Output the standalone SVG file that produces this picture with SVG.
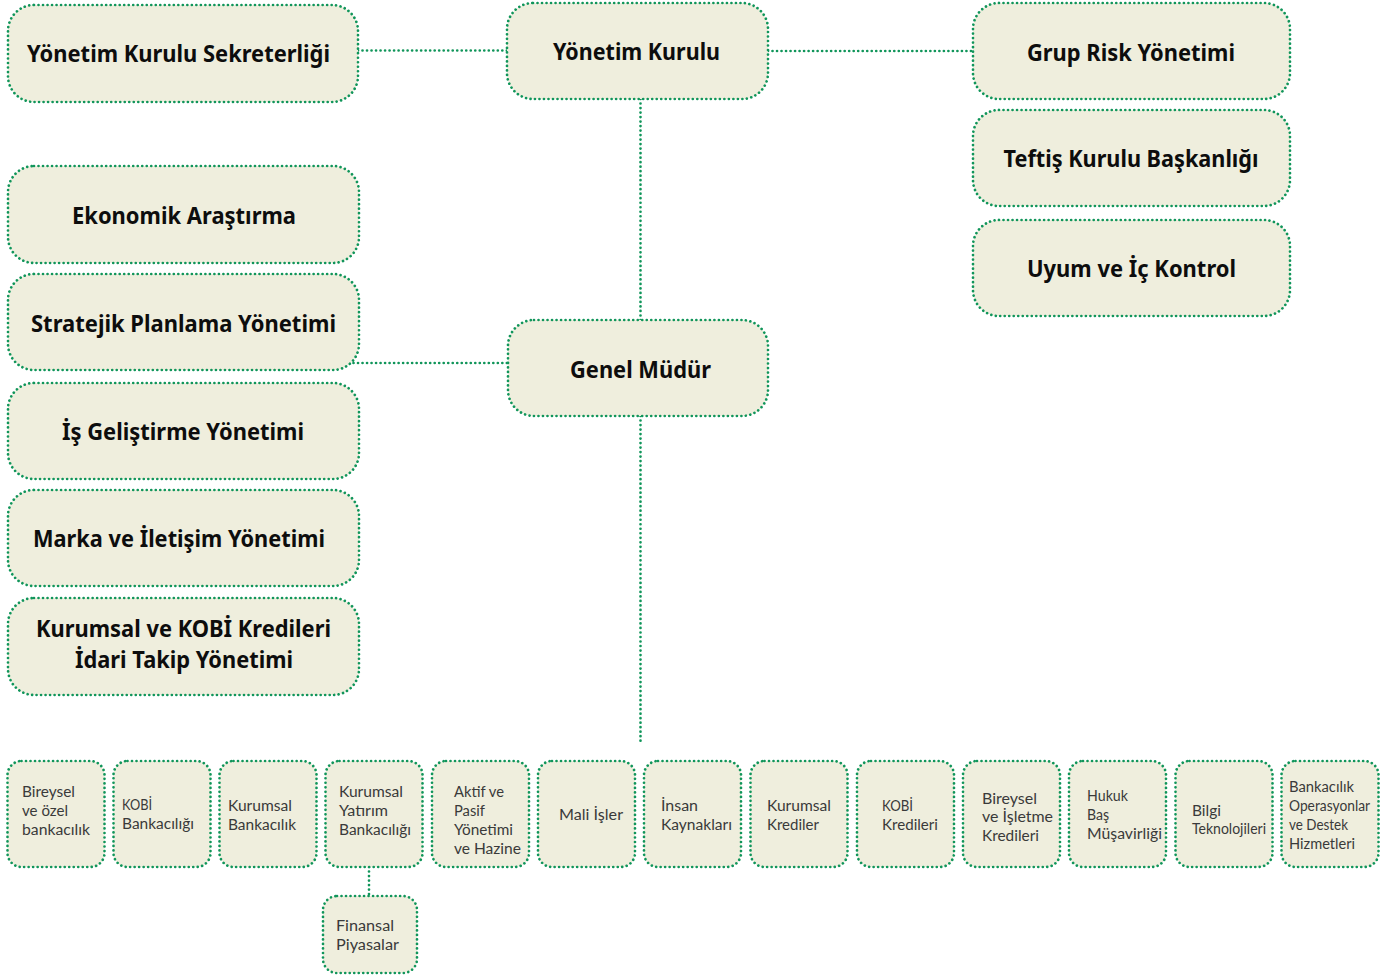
<svg xmlns="http://www.w3.org/2000/svg" width="1400" height="976" viewBox="0 0 1400 976">
<style>
.box{fill:#efeedd;stroke:#10955a;stroke-width:2.7;stroke-dasharray:0.01 4.5;stroke-linecap:round}
.ln{fill:none;stroke:#10955a;stroke-width:2.7;stroke-dasharray:0.01 4.5;stroke-linecap:round}
.b{font-family:"Noto Sans","Open Sans",sans-serif;font-weight:700;font-size:24px;fill:#0d0d0d;text-anchor:middle}
.s{font-family:Lato,"Noto Sans",sans-serif;font-weight:400;font-size:15.5px;fill:#3a3a3a}
</style>
<rect width="1400" height="976" fill="#fff"/>
<g id="connectors">
<path class="ln" d="M358 50.5H507"/>
<path class="ln" d="M768 51H973"/>
<path class="ln" d="M640.5 99V320"/>
<path class="ln" d="M349 363H508"/>
<path class="ln" d="M640.5 416V745"/>
<path class="ln" d="M369 867V896"/>
</g>
<g id="n-yks"><rect class="box" x="8" y="5" width="350" height="97" rx="26"/><text class="b" x="178.5" y="62" textLength="303" lengthAdjust="spacingAndGlyphs">Yönetim Kurulu Sekreterliği</text></g>
<g id="n-yk"><rect class="box" x="507" y="3" width="261" height="96" rx="26"/><text class="b" x="636.5" y="60" textLength="167" lengthAdjust="spacingAndGlyphs">Yönetim Kurulu</text></g>
<g id="n-grup"><rect class="box" x="973" y="3" width="317" height="96" rx="26"/><text class="b" x="1131" y="61" textLength="208" lengthAdjust="spacingAndGlyphs">Grup Risk Yönetimi</text></g>
<g id="n-teftis"><rect class="box" x="973" y="110" width="317" height="96" rx="26"/><text class="b" x="1131" y="167" textLength="255" lengthAdjust="spacingAndGlyphs">Teftiş Kurulu Başkanlığı</text></g>
<g id="n-uyum"><rect class="box" x="973" y="220" width="317" height="96" rx="26"/><text class="b" x="1131.5" y="277" textLength="209" lengthAdjust="spacingAndGlyphs">Uyum ve İç Kontrol</text></g>
<g id="n-ekonomik"><rect class="box" x="8" y="166" width="351" height="97" rx="26"/><text class="b" x="184" y="223.5" textLength="224" lengthAdjust="spacingAndGlyphs">Ekonomik Araştırma</text></g>
<g id="n-stratejik"><rect class="box" x="8" y="274" width="351" height="96" rx="26"/><text class="b" x="183.5" y="332" textLength="305" lengthAdjust="spacingAndGlyphs">Stratejik Planlama Yönetimi</text></g>
<g id="n-is"><rect class="box" x="8" y="383" width="351" height="96" rx="26"/><text class="b" x="183" y="440" textLength="242" lengthAdjust="spacingAndGlyphs">İş Geliştirme Yönetimi</text></g>
<g id="n-marka"><rect class="box" x="8" y="490" width="351" height="96" rx="26"/><text class="b" x="179" y="547" textLength="292" lengthAdjust="spacingAndGlyphs">Marka ve İletişim Yönetimi</text></g>
<g id="n-kurumsal-kobi"><rect class="box" x="8" y="598" width="351" height="97" rx="26"/><text class="b" x="183.5" y="637" textLength="295" lengthAdjust="spacingAndGlyphs">Kurumsal ve KOBİ Kredileri</text><text class="b" x="184" y="668" textLength="218" lengthAdjust="spacingAndGlyphs">İdari Takip Yönetimi</text></g>
<g id="n-gm"><rect class="box" x="508" y="320" width="260" height="96" rx="26"/><text class="b" x="640.5" y="378" textLength="141" lengthAdjust="spacingAndGlyphs">Genel Müdür</text></g>

<g id="n-b1"><rect class="box" x="7.5" y="761" width="97" height="106" rx="14"/><text class="s" x="22" y="797" textLength="53" lengthAdjust="spacingAndGlyphs">Bireysel</text><text class="s" x="22" y="816" textLength="46" lengthAdjust="spacingAndGlyphs">ve özel</text><text class="s" x="22" y="835" textLength="68" lengthAdjust="spacingAndGlyphs">bankacılık</text></g>
<g id="n-b2"><rect class="box" x="113.5" y="761" width="97" height="106" rx="14"/><text class="s" x="122" y="810" textLength="30" lengthAdjust="spacingAndGlyphs">KOBİ</text><text class="s" x="122" y="829" textLength="72" lengthAdjust="spacingAndGlyphs">Bankacılığı</text></g>
<g id="n-b3"><rect class="box" x="219.5" y="761" width="97" height="106" rx="14"/><text class="s" x="228" y="811" textLength="64" lengthAdjust="spacingAndGlyphs">Kurumsal</text><text class="s" x="228" y="830" textLength="68" lengthAdjust="spacingAndGlyphs">Bankacılık</text></g>
<g id="n-b4"><rect class="box" x="325.5" y="761" width="97" height="106" rx="14"/><text class="s" x="339" y="797" textLength="64" lengthAdjust="spacingAndGlyphs">Kurumsal</text><text class="s" x="339" y="816" textLength="49" lengthAdjust="spacingAndGlyphs">Yatırım</text><text class="s" x="339" y="835" textLength="72" lengthAdjust="spacingAndGlyphs">Bankacılığı</text></g>
<g id="n-b5"><rect class="box" x="432" y="761" width="97" height="106" rx="14"/><text class="s" x="454" y="797" textLength="50" lengthAdjust="spacingAndGlyphs">Aktif ve</text><text class="s" x="454" y="816" textLength="31" lengthAdjust="spacingAndGlyphs">Pasif</text><text class="s" x="454" y="835" textLength="59" lengthAdjust="spacingAndGlyphs">Yönetimi</text><text class="s" x="454" y="854" textLength="67" lengthAdjust="spacingAndGlyphs">ve Hazine</text></g>
<g id="n-b6"><rect class="box" x="538" y="761" width="97" height="106" rx="14"/><text class="s" x="559" y="820" textLength="64" lengthAdjust="spacingAndGlyphs">Mali İşler</text></g>
<g id="n-b7"><rect class="box" x="644" y="761" width="97" height="106" rx="14"/><text class="s" x="661" y="811" textLength="37" lengthAdjust="spacingAndGlyphs">İnsan</text><text class="s" x="661" y="830" textLength="71" lengthAdjust="spacingAndGlyphs">Kaynakları</text></g>
<g id="n-b8"><rect class="box" x="750.5" y="761" width="97" height="106" rx="14"/><text class="s" x="767" y="811" textLength="64" lengthAdjust="spacingAndGlyphs">Kurumsal</text><text class="s" x="767" y="830" textLength="52" lengthAdjust="spacingAndGlyphs">Krediler</text></g>
<g id="n-b9"><rect class="box" x="857" y="761" width="97" height="106" rx="14"/><text class="s" x="882" y="811" textLength="31" lengthAdjust="spacingAndGlyphs">KOBİ</text><text class="s" x="882" y="830" textLength="56" lengthAdjust="spacingAndGlyphs">Kredileri</text></g>
<g id="n-b10"><rect class="box" x="963" y="761" width="97" height="106" rx="14"/><text class="s" x="982" y="804" textLength="55" lengthAdjust="spacingAndGlyphs">Bireysel</text><text class="s" x="982" y="822" textLength="71" lengthAdjust="spacingAndGlyphs">ve İşletme</text><text class="s" x="982" y="841" textLength="57" lengthAdjust="spacingAndGlyphs">Kredileri</text></g>
<g id="n-b11"><rect class="box" x="1069" y="761" width="97" height="106" rx="14"/><text class="s" x="1087" y="801" textLength="41" lengthAdjust="spacingAndGlyphs">Hukuk</text><text class="s" x="1087" y="820" textLength="22" lengthAdjust="spacingAndGlyphs">Baş</text><text class="s" x="1087" y="839" textLength="75" lengthAdjust="spacingAndGlyphs">Müşavirliği</text></g>
<g id="n-b12"><rect class="box" x="1175.5" y="761" width="97" height="106" rx="14"/><text class="s" x="1192" y="816" textLength="29" lengthAdjust="spacingAndGlyphs">Bilgi</text><text class="s" x="1192" y="834" textLength="74" lengthAdjust="spacingAndGlyphs">Teknolojileri</text></g>
<g id="n-b13"><rect class="box" x="1281.5" y="761" width="97" height="106" rx="14"/><text class="s" x="1289" y="792" textLength="65" lengthAdjust="spacingAndGlyphs">Bankacılık</text><text class="s" x="1289" y="811" textLength="81" lengthAdjust="spacingAndGlyphs">Operasyonlar</text><text class="s" x="1289" y="830" textLength="59" lengthAdjust="spacingAndGlyphs">ve Destek</text><text class="s" x="1289" y="849" textLength="66" lengthAdjust="spacingAndGlyphs">Hizmetleri</text></g>
<g id="n-finansal"><rect class="box" x="323" y="896" width="94" height="77" rx="14"/><text class="s" x="336" y="931" textLength="58" lengthAdjust="spacingAndGlyphs">Finansal</text><text class="s" x="336" y="950" textLength="63" lengthAdjust="spacingAndGlyphs">Piyasalar</text></g>
</svg>
